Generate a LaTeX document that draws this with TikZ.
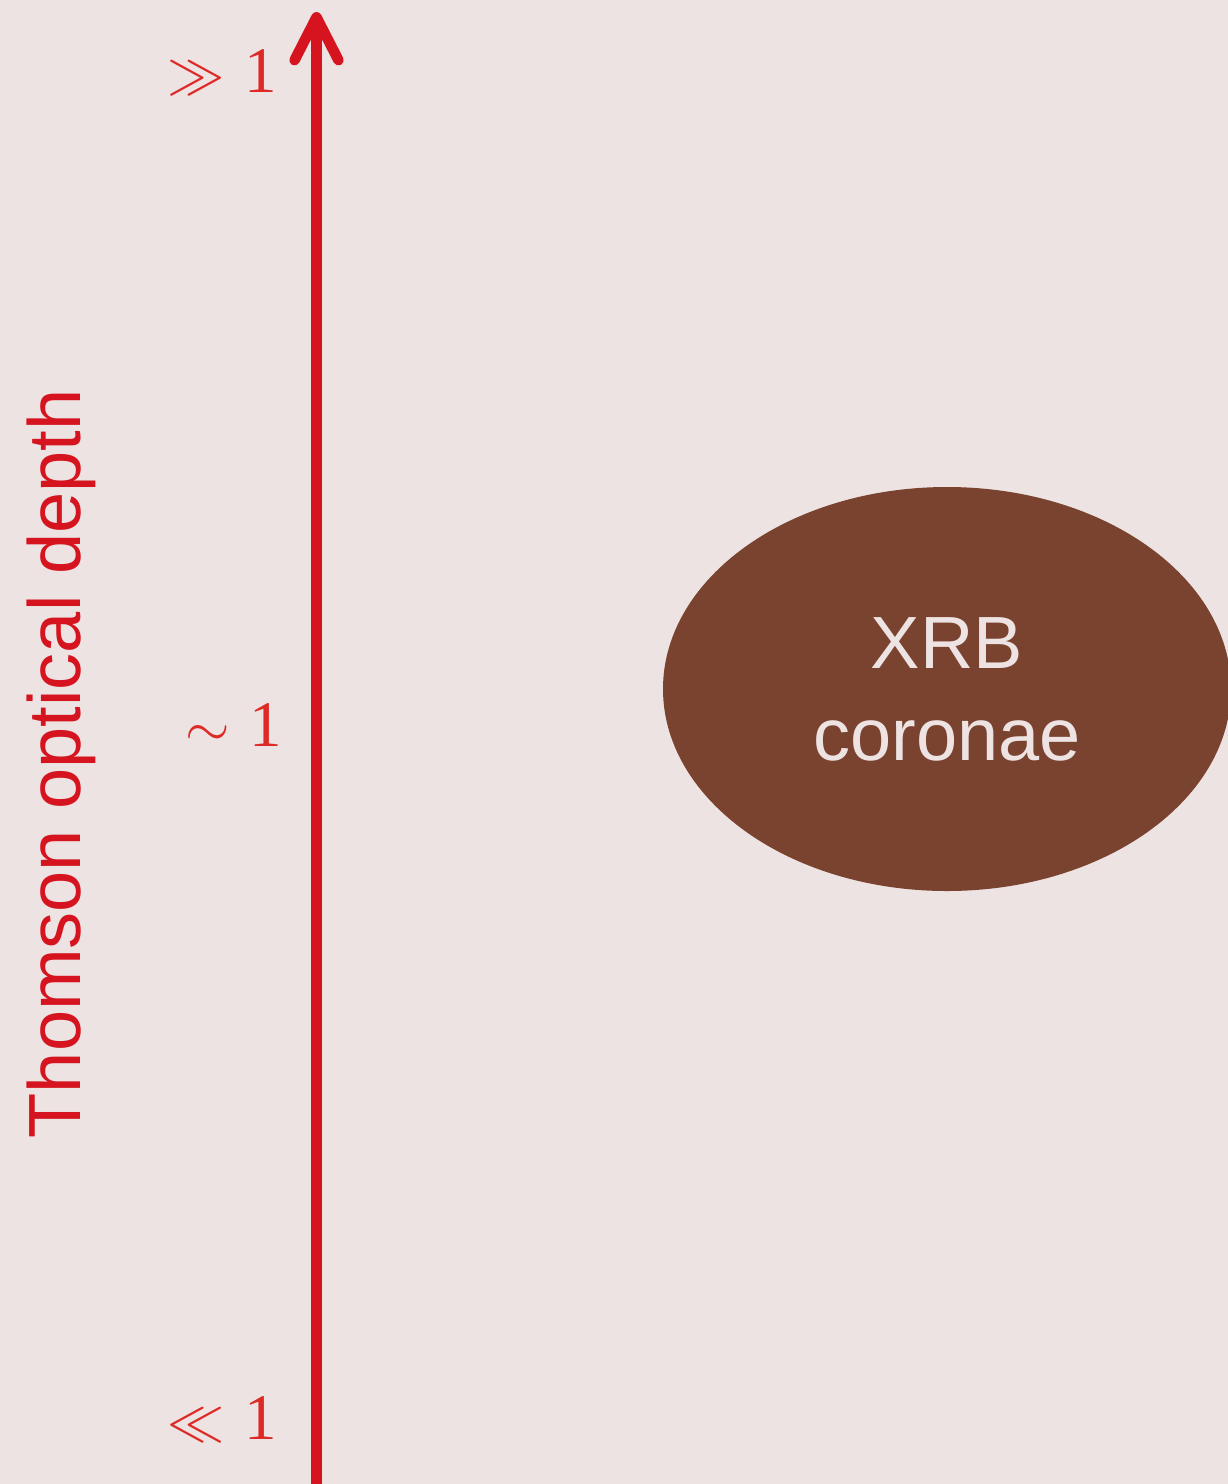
\documentclass[tikz,border=0pt]{standalone}
\usepackage{graphicx}
\usepackage{fontspec}
\setmainfont{Liberation Sans}
\newfontfamily\serifnum{Liberation Serif}
\usetikzlibrary{arrows.meta,shapes.geometric}
\definecolor{paper}{HTML}{EDE3E2}
\definecolor{axisred}{HTML}{D5141F}
\definecolor{ticklabel}{HTML}{DD2A26}
\definecolor{blob}{HTML}{7A432F}
% relation symbols enlarged from the largest preset math size
\newcommand{\bigrel}[2]{\scalebox{#1}{$\textstyle #2$}}
\tikzset{
  ticktext/.style={text=ticklabel, inner sep=0pt, anchor=base east,
    font=\fontsize{65}{76}\selectfont\serifnum},
  axisline/.style={draw=axisred, line width=10.5pt,
    -{Straight Barb[length=43pt, width=44pt, round]}},
  regime/.style={ellipse, fill=blob, text=paper, minimum width=568pt,
    minimum height=404pt, inner sep=0pt, align=center,
    font=\fontsize{74}{92}\selectfont},
}
\begin{document}
\begin{tikzpicture}[x=1pt, y=-1pt]
  % canvas
  \fill[paper] (0,0) rectangle (1228,1484);
  \useasboundingbox (0,0) rectangle (1228,1484);

  % optical-depth axis
  \coordinate (axisbottom) at (316.5,1484);
  \coordinate (axistop) at (316.5,12);
  \draw[axisline] (axisbottom) -- (axistop);

  % axis title
  \node[text=axisred, rotate=90, inner sep=0pt,
        font=\fontsize{74}{90}\selectfont] (title) at (61,764) {Thomson optical depth};

  % tick labels
  \node[ticktext] (high) at (277,92) {\bigrel{2.3}{\gg}\hspace{0.3em}1};
  \node[ticktext] (mid) at (282,746) {\bigrel{2.3}{\sim}\hspace{0.3em}1};
  \node[ticktext] (low) at (277,1439) {\bigrel{2.3}{\ll}\hspace{0.3em}1};

  % source class
  \node[regime] (xrb) at (947,689) {XRB\\coronae};
\end{tikzpicture}
\end{document}
